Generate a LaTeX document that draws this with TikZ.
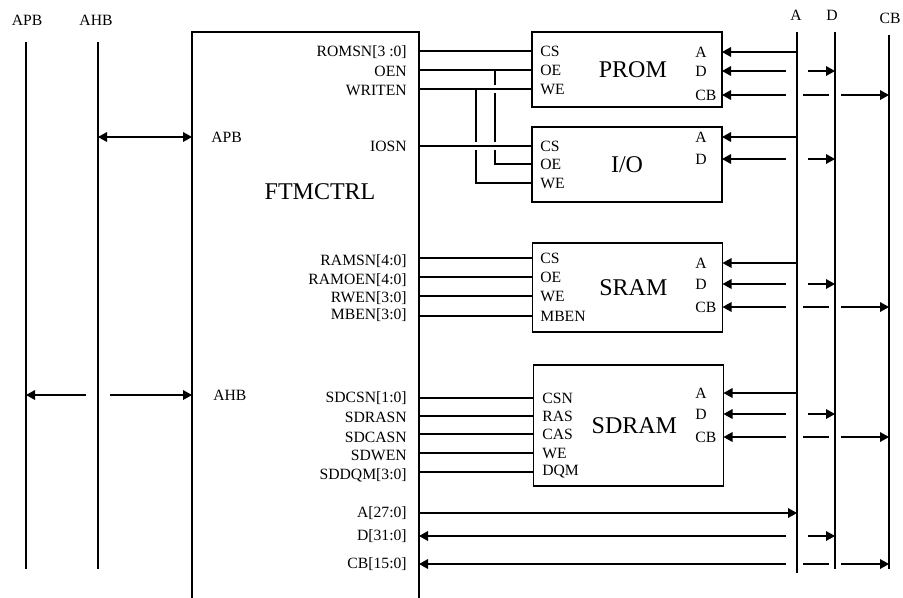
\documentclass[tikz,border=0pt]{standalone}
\usepackage{fontspec}
\setmainfont{Liberation Serif}
\usetikzlibrary{arrows.meta,calc}

\newcommand{\sigfont}{\fontsize{9.4}{11}\selectfont}
\newcommand{\blkfont}{\fontsize{14.4}{17}\selectfont}

\begin{document}
\begin{tikzpicture}[
    x=0.6pt, y=-0.6pt,
    % --- Styles ---
    % Small text for signals, pins and bus names
    sig label/.style={font=\sigfont, anchor=east, inner sep=0pt},
    pin label/.style={font=\sigfont, anchor=west, inner sep=0pt},
    bus label/.style={font=\sigfont, inner sep=0pt},
    % Memory blocks, title centered inside
    block node/.style={draw, line width=0.8pt, font=\blkfont, minimum width=114pt, inner sep=0pt, outer sep=0pt},
    wire line/.style={draw, line width=0.8pt},
    tip line/.style={wire line, -{Triangle[length=5.4pt, width=5.8pt]}},
    both line/.style={wire line, {Triangle[length=5.4pt, width=5.8pt]}-{Triangle[length=5.4pt, width=5.8pt]}},
    % White halo that cuts the crossed wire
    jump line/.style={wire line, preaction={draw=white, line width=5pt, shorten <=2pt, shorten >=2pt}}
]

%================CONFIGURATION================
% \gapA: cut of a wire either side of the A bus
% \gapD: cut of a wire either side of the D bus
\def\gapA{11}
\def\gapD{6}
%=============================================

\useasboundingbox (0,0) rectangle (903,597);

% --- 1. System buses on the left ---
\node[bus label] (apbName) at (27,20) {APB};
\node[bus label] (ahbName) at (96,20) {AHB};
\coordinate (apbT) at (26,42);  \coordinate (apbB) at (26,569);
\coordinate (ahbT) at (98,42);  \coordinate (ahbB) at (98,569);
\draw[wire line] (apbT) -- (apbB);
\draw[wire line] (ahbT) -- (ahbB);

% --- 2. Controller (box open at the bottom) ---
\coordinate (ftmL) at (192,32);
\coordinate (ftmR) at (419,32);
\coordinate (ftmLB) at (192,600);
\coordinate (ftmRB) at (419,600);
\draw[wire line] (ftmLB) -- (ftmL) -- (ftmR) -- (ftmRB);
\node[font=\blkfont] (ftm) at (320,192) {FTMCTRL};

\node[pin label] (apbPort) at (211,137) {APB};
\node[pin label] (ahbPort) at (213,395) {AHB};
\draw[both line] (ahbT |- apbPort) -- (ftmL |- apbPort);
\draw[tip line] ($(ahbT |- ahbPort)+(12,0)$) -- (ftmL |- ahbPort);
\draw[tip line] ($(ahbT |- ahbPort)+(-12,0)$) -- (apbT |- ahbPort);

% --- 3. Memory blocks ---
\node[block node, minimum height=45pt] (prom) at (627,69.5) {\hspace{7pt}PROM};
\node[block node, minimum height=45pt] (io) at (627,164.5) {I/O};
\node[block node, minimum height=53.4pt] (sram) at (627.5,287.5) {\hspace{7pt}SRAM};
\node[block node, minimum height=72.6pt] (sdram) at (628.5,425.5) {\hspace{7pt}SDRAM};

% --- 4. PROM and I/O control ---
\foreach \name/\sig/\y in {romsn/{ROMSN[3 :0]}/52, oen/OEN/71, writen/WRITEN/90, iosn/IOSN/146}
    \node[sig label] (\name) at (407,\y) {\sig};
\foreach \pin/\y [count=\c] in {CS/51, OE/70, WE/89}
    \node[pin label] (prom\c) at (540,\y) {\pin};
\foreach \pin/\y [count=\c] in {CS/146, OE/164, WE/183}
    \node[pin label] (io\c) at (540,\y) {\pin};

\coordinate (oeTap) at (495,0);
\coordinate (weTap) at (476,0);
\draw[wire line] (ftmR |- prom1) -- (prom.west |- prom1);
\draw[wire line] (ftmR |- prom2) -- (prom.west |- prom2);
\draw[wire line] (oeTap |- prom2) |- (io.west |- io2);
\draw[jump line] (ftmR |- prom3) -- (prom.west |- prom3);
\draw[wire line] (weTap |- prom3) |- (io.west |- io3);
\draw[jump line] (ftmR |- io1) -- (io.west |- io1);

% --- 5. SRAM control ---
\foreach \sig/\ys/\pin/\yp [count=\c] in {{RAMSN[4:0]}/261/CS/258, {RAMOEN[4:0]}/280/OE/277,
        {RWEN[3:0]}/298/WE/296, {MBEN[3:0]}/315/MBEN/316} {
    \node[sig label] (ramSig\c) at (407,\ys) {\sig};
    \node[pin label] (sram\c) at (540,\yp) {\pin};
    \draw[wire line] (ftmR |- sram\c) -- (sram.west |- sram\c);
}

% --- 6. SDRAM control ---
\foreach \sig/\ys/\pin/\yp [count=\c] in {{SDCSN[1:0]}/398/CSN/398, SDRASN/417/RAS/416,
        SDCASN/437/CAS/434, SDWEN/455/WE/453, {SDDQM[3:0]}/475/DQM/472} {
    \node[sig label] (sdSig\c) at (407,\ys) {\sig};
    \node[pin label] (sdram\c) at (542,\yp) {\pin};
    \draw[wire line] (ftmR |- sdram\c) -- (sdram.west |- sdram\c);
}

% --- 7. Memory buses on the right ---
\node[bus label] (aName) at (796,15) {A};
\node[bus label] (dName) at (832,15) {D};
\node[bus label] (cbName) at (890,18) {CB};
\coordinate (aTop) at (797,32);   \coordinate (aBot) at (797,573);
\coordinate (dTop) at (835,32);   \coordinate (dBot) at (835,569);
\coordinate (cbTop) at (889,35);  \coordinate (cbBot) at (889,569);
\draw[wire line] (aTop) -- (aBot);
\draw[wire line] (dTop) -- (dBot);
\draw[wire line] (cbTop) -- (cbBot);

\foreach \blk/\ya/\yd in {prom/52/71, io/137/159, sram/263/284, sdram/393/414} {
    \node[pin label] (\blk A) at (695,\ya) {A};
    \node[pin label] (\blk D) at (695,\yd) {D};
    \draw[tip line] (aTop |- \blk A) -- (\blk.east |- \blk A);
    \draw[tip line] ($(aTop |- \blk D)+(-\gapA,0)$) -- (\blk.east |- \blk D);
    \draw[tip line] ($(aTop |- \blk D)+(\gapA,0)$) -- (dTop |- \blk D);
}
\foreach \blk/\ycb in {prom/95, sram/307, sdram/437} {
    \node[pin label] (\blk CB) at (695,\ycb) {CB};
    \draw[tip line] ($(aTop |- \blk CB)+(-\gapA,0)$) -- (\blk.east |- \blk CB);
    \draw[wire line] ($(aTop |- \blk CB)+(\gapD,0)$) -- ($(dTop |- \blk CB)+(-\gapD,0)$);
    \draw[tip line] ($(dTop |- \blk CB)+(\gapD,0)$) -- (cbTop |- \blk CB);
}

% --- 8. Controller to memory buses ---
\node[sig label] (aSig) at (407,513) {A[27:0]};
\node[sig label] (dSig) at (407,536) {D[31:0]};
\node[sig label] (cbSig) at (407,564) {CB[15:0]};
\draw[tip line] (ftmR |- aSig) -- (aTop |- aSig);
\draw[tip line] ($(aTop |- dSig)+(-\gapA,0)$) -- (ftmR |- dSig);
\draw[tip line] ($(aTop |- dSig)+(\gapA,0)$) -- (dTop |- dSig);
\draw[tip line] ($(aTop |- cbSig)+(-\gapA,0)$) -- (ftmR |- cbSig);
\draw[wire line] ($(aTop |- cbSig)+(\gapD,0)$) -- ($(dTop |- cbSig)+(-\gapD,0)$);
\draw[tip line] ($(dTop |- cbSig)+(\gapD,0)$) -- (cbTop |- cbSig);

\end{tikzpicture}
\end{document}
